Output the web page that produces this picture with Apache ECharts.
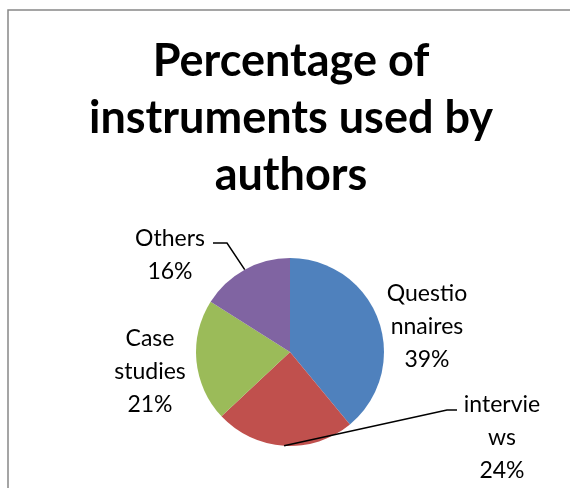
<!DOCTYPE html>
<html>
<head>
<meta charset="utf-8">
<script src="https://cdn.jsdelivr.net/npm/echarts@6/dist/echarts.min.js"></script>
<style>
  html, body { margin: 0; padding: 0; background: #fff; }
  #main { width: 570px; height: 488px; }
</style>
</head>
<body>
<div id="main"></div>
<script>
// data
var categories = ['Questionnaires', 'interviews', 'Case studies', 'Others'];
var values = [39, 24, 21, 16];
// how each name wraps in the label box
var wrappedNames = ['Questio\nnnaires', 'intervie\nws', 'Case\nstudies', 'Others'];

var colors = ['#4F81BD', '#C0504D', '#9BBB59', '#8064A2'];
var pieCenter = [290, 352];
var pieRadius = 94;
// label centres and leader line elbows (layout only)
var labelSpots = [[427, 327], [502, 438], [150, 372], [170, 255]];
var elbows = [null, [[447, 410], [457, 410]], null, [[227, 243], [213, 243]]];

// middle of each slice's outer edge, so the leader starts there
var total = values.reduce(function (a, b) { return a + b; }, 0);
function arcMid(i) {
    var before = 0;
    for (var k = 0; k < i; k++) before += values[k];
    var a = (before + values[i] / 2) / total * Math.PI * 2;
    return [pieCenter[0] + pieRadius * Math.sin(a), pieCenter[1] - pieRadius * Math.cos(a)];
}

// leader lines drawn on top of the pie (the red one crosses its slice)
var leaders = [];
elbows.forEach(function (e, i) {
    if (!e) return;
    leaders.push({
        type: 'polyline',
        z: 100,
        silent: true,
        shape: { points: [arcMid(i), e[0], e[1]] },
        style: { fill: null, stroke: '#000', lineWidth: 1.5 }
    });
});

var myChart = echarts.init(document.getElementById('main'));

var option = {
    animation: false,
    backgroundColor: '#fff',
    title: {
        text: 'Percentage of\ninstruments used by\nauthors',
        left: 286,
        textAlign: 'center',
        top: 28,
        textStyle: {
            fontFamily: 'Lato',
            fontWeight: 'bold',
            fontSize: 45,
            lineHeight: 57,
            color: '#000'
        }
    },
    graphic: [{
        type: 'rect',
        shape: { x: 8, y: 10, width: 700, height: 700 },
        style: { fill: null, stroke: '#888', lineWidth: 1.5 },
        silent: true
    }].concat(leaders),
    series: [{
        type: 'pie',
        center: pieCenter,
        radius: pieRadius,
        startAngle: 90,
        clockwise: true,
        data: categories.map(function (c, i) {
            return { name: c, value: values[i], itemStyle: { color: colors[i] } };
        }),
        label: {
            show: true,
            position: 'outside',
            formatter: function (p) {
                return wrappedNames[p.dataIndex] + '\n' + Math.round(p.percent) + '%';
            },
            fontFamily: 'Lato',
            fontSize: 23,
            lineHeight: 33,
            color: '#000',
            align: 'center'
        },
        labelLine: { show: false },
        labelLayout: function (params) {
            var spot = labelSpots[params.dataIndex];
            return {
                x: spot[0],
                y: spot[1],
                align: 'center',
                verticalAlign: 'middle'
            };
        }
    }]
};

myChart.setOption(option);
</script>
</body>
</html>
